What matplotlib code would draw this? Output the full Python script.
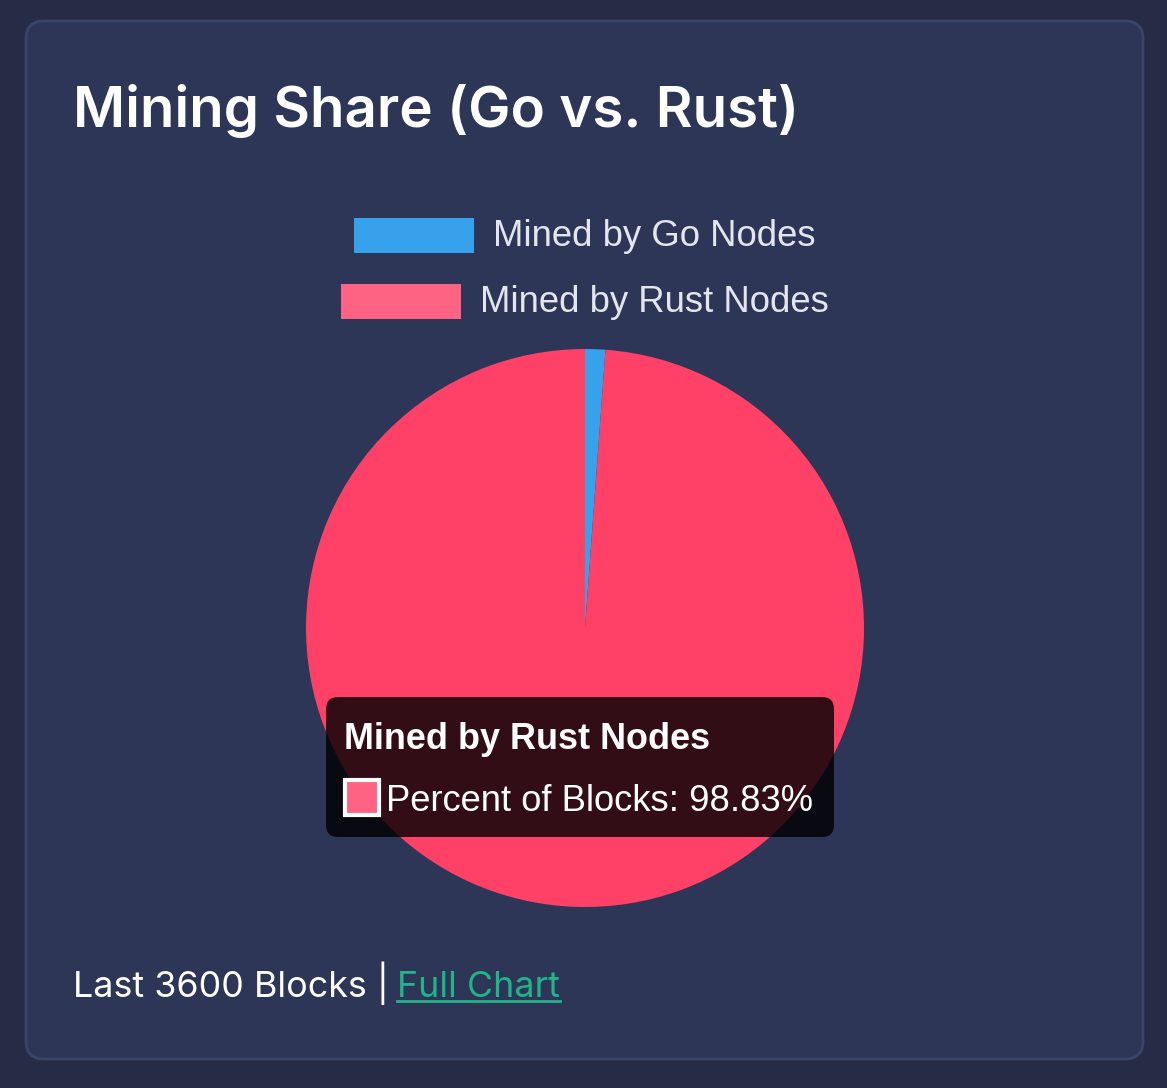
import matplotlib
matplotlib.use("Agg")
import matplotlib.pyplot as plt
from matplotlib.patches import FancyBboxPatch, Rectangle

# data
labels = ["Mined by Go Nodes", "Mined by Rust Nodes"]
shares = [1.17, 98.83]
legend_colors = ["#36a2eb", "#ff6384"]
pie_colors = ["#36a2eb", "#ff4168"]
title = "Mining Share (Go vs. Rust)"
tooltip_label = "Percent of Blocks"
footer_text = "Last 3600 Blocks |"
link_text = "Full Chart"

W, H = 1167, 1088
fig = plt.figure(figsize=(W / 100, H / 100), dpi=100)
fig.patch.set_facecolor("#262c46")

# background layer (pixel coords, y down)
bg = fig.add_axes([0, 0, 1, 1], zorder=0)
bg.set_xlim(0, W)
bg.set_ylim(H, 0)
bg.axis("off")
card = FancyBboxPatch((26, 21), 1117, 1038, boxstyle="round,pad=0,rounding_size=18",
                      facecolor="#2d3656", edgecolor="#3a4468", linewidth=2)
bg.add_patch(card)

bg.text(73, 111, title, fontsize=40.7, fontweight="semibold", family="Inter",
        color="white", va="center", ha="left")

# legend rows
rows_y = [235, 301]
for i, (lab, col) in enumerate(zip(labels, legend_colors)):
    t = bg.text(0, rows_y[i] + 1, lab, fontsize=26.3, family="Liberation Sans",
                color="#e3e6ef", va="center", ha="left")
    fig.canvas.draw()
    tw = t.get_window_extent().width
    total = 120 + 19 + tw
    x0 = 585 - total / 2
    bg.add_patch(Rectangle((x0, rows_y[i] - 17.5), 120, 35, facecolor=col, edgecolor="none"))
    t.set_x(x0 + 139)

# pie
r = 279
cx, cy = 585, 628
ax = fig.add_axes([(cx - r) / W, (H - cy - r) / H, 2 * r / W, 2 * r / H], zorder=1)
ax.pie(shares, colors=pie_colors, startangle=90, counterclock=False, radius=1,
       wedgeprops=dict(linewidth=0))
ax.set_xlim(-1, 1)
ax.set_ylim(-1, 1)
ax.set_aspect("equal")
ax.axis("off")

# overlay: tooltip + footer
ov = fig.add_axes([0, 0, 1, 1], zorder=2)
ov.set_xlim(0, W)
ov.set_ylim(H, 0)
ov.axis("off")
ov.patch.set_alpha(0)

tip = FancyBboxPatch((326, 697), 508, 140, boxstyle="round,pad=0,rounding_size=12",
                     facecolor=(0, 0, 0, 0.8), edgecolor="none")
ov.add_patch(tip)
ov.text(344, 749, labels[1], fontsize=25.9, fontweight="bold", family="Liberation Sans",
        color="white", va="baseline", ha="left")
ov.add_patch(Rectangle((345, 780), 34, 35, facecolor=legend_colors[1], edgecolor="white", linewidth=3))
ov.text(386, 811, f"{tooltip_label}: {shares[1]:.2f}%", fontsize=26.2,
        family="Liberation Sans", color="white", va="baseline", ha="left")

ov.text(73, 997, footer_text, fontsize=25.8, family="Inter", color="white",
        va="baseline", ha="left")
lk = ov.text(397, 997, link_text, fontsize=25.8, family="Inter", color="#1fb489",
             va="baseline", ha="left")
fig.canvas.draw()
lb = lk.get_window_extent()
p0 = ov.transData.inverted().transform((lb.x0, lb.y0))
p1 = ov.transData.inverted().transform((lb.x1, lb.y0))
ov.plot([p0[0], p1[0]], [1001, 1001], color="#1fb489", linewidth=2)

fig.savefig("out.png", dpi=100, facecolor=fig.get_facecolor())
